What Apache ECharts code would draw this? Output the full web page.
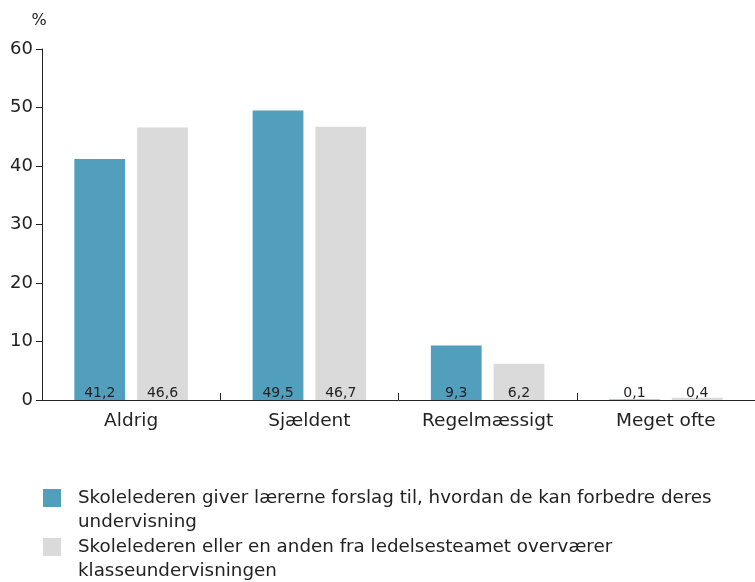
<!DOCTYPE html>
<html>
<head>
<meta charset="utf-8">
<script src="https://cdn.jsdelivr.net/npm/echarts@6/dist/echarts.min.js"></script>
<style>
  html, body { margin: 0; padding: 0; background: #fff; }
  #chart { width: 755px; height: 582px; }
</style>
</head>
<body>
<div id="chart"></div>
<script>
  const categories = ['Aldrig', 'Sjældent', 'Regelmæssigt', 'Meget ofte'];
  const forslagValues = [41.2, 49.5, 9.3, 0.1];
  const overvaererValues = [46.6, 46.7, 6.2, 0.4];
  const yTicks = [0, 10, 20, 30, 40, 50, 60];

  const seriesNames = [
    'Skolelederen giver lærerne forslag til, hvordan de kan forbedre deres\nundervisning',
    'Skolelederen eller en anden fra ledelsesteamet overværer\nklasseundervisningen'
  ];

  const font = '"DejaVu Sans", sans-serif';
  const myChart = echarts.init(document.getElementById('chart'));

  const barLabel = {
    show: true,
    position: 'insideBottom',
    distance: 0,
    color: '#222',
    fontSize: 14,
    fontFamily: font,
    formatter: (p) => String(p.value).replace('.', ',')
  };

  // blank first line keeps the icon level with the first text line
  const legendBase = {
    orient: 'vertical',
    left: 43,
    padding: 0,
    itemWidth: 18,
    itemHeight: 18,
    icon: 'rect',
    formatter: (name) => ' \n' + name,
    textStyle: {
      color: '#222',
      fontSize: 18.3,
      fontFamily: font,
      lineHeight: 24,
      padding: [0, 0, 0, 12]
    }
  };

  const option = {
    animation: false,
    legend: [
      Object.assign({ top: 462, data: [seriesNames[0]] }, legendBase),
      Object.assign({ top: 511, data: [seriesNames[1]] }, legendBase)
    ],
    grid: {
      left: 42,
      right: 0,
      top: 49,
      bottom: 182,
      containLabel: false
    },
    xAxis: {
      type: 'category',
      data: categories,
      axisLine: { lineStyle: { color: '#222', width: 1 } },
      axisTick: { show: true, length: 7, inside: true, lineStyle: { color: '#222' } },
      axisLabel: { color: '#222', fontSize: 18.5, fontFamily: font, margin: 12 }
    },
    yAxis: {
      type: 'value',
      min: 0,
      max: 60,
      interval: 10,
      name: '%',
      nameGap: 20,
      nameTextStyle: { color: '#222', fontSize: 16, fontFamily: font, padding: [0, 6, 0, 0] },
      axisLine: { show: true, lineStyle: { color: '#222', width: 1 } },
      axisTick: { show: true, length: 6, lineStyle: { color: '#222' } },
      axisLabel: {
        color: '#222', fontSize: 18, fontFamily: font, margin: 9,
        formatter: (v) => yTicks.includes(v) ? String(v) : ''
      },
      splitLine: { show: false }
    },
    series: [
      {
        name: seriesNames[0],
        type: 'bar',
        data: forslagValues,
        barWidth: '28.5%',
        barGap: '23.5%',
        itemStyle: { color: '#529fbd' },
        label: barLabel
      },
      {
        name: seriesNames[1],
        type: 'bar',
        data: overvaererValues,
        barWidth: '28.5%',
        itemStyle: { color: '#d9dad9' },
        label: barLabel
      }
    ]
  };

  myChart.setOption(option);
</script>
</body>
</html>
